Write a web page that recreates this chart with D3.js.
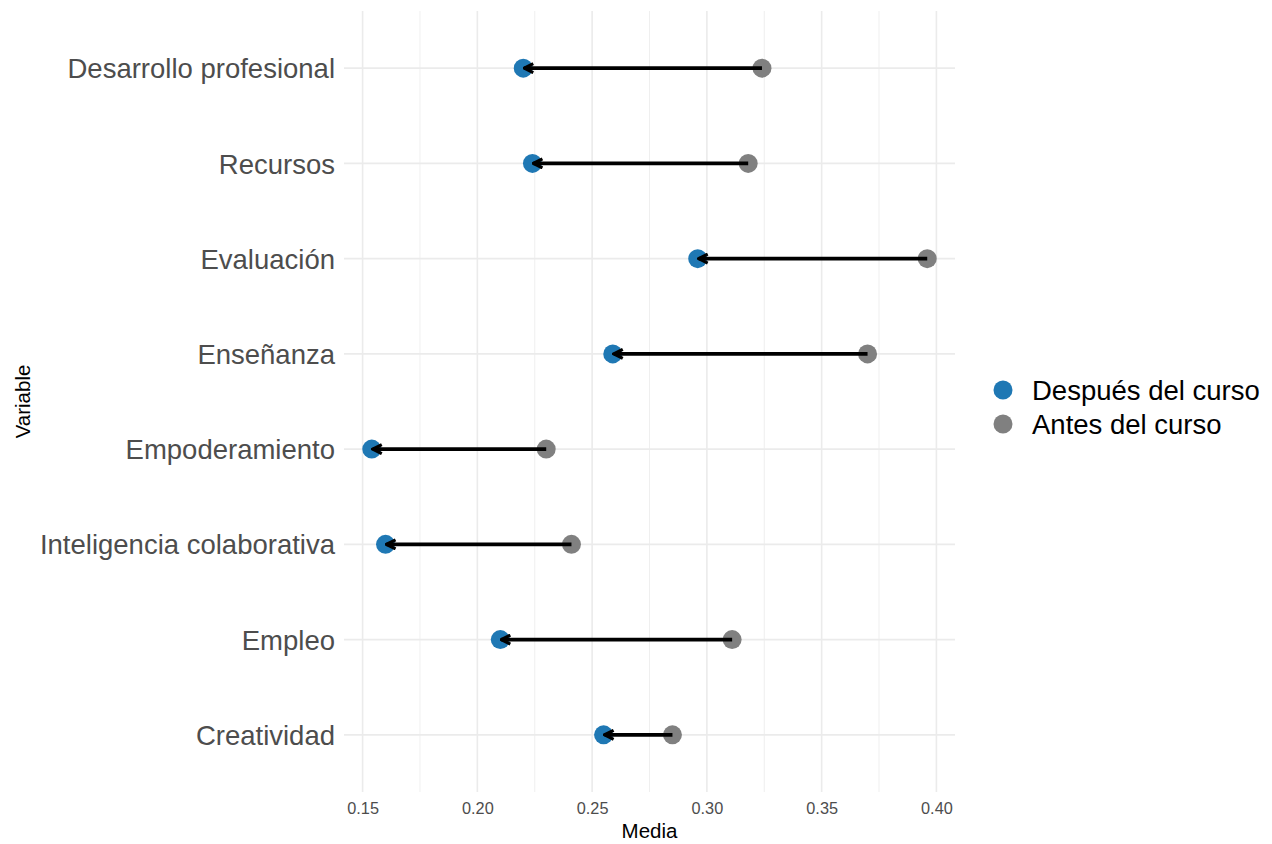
<!DOCTYPE html>
<html><head><meta charset="utf-8">
<script src="https://cdn.jsdelivr.net/npm/d3@7"></script>
<style>body{margin:0;background:#fff;} text{font-family:"Liberation Sans",Arial,sans-serif;}</style>
</head><body>
<svg id="c" width="1272" height="844"></svg>
<script>
const categories = ["Creatividad","Empleo","Inteligencia colaborativa","Empoderamiento","Enseñanza","Evaluación","Recursos","Desarrollo profesional"];
const antes   = [0.285, 0.311, 0.241, 0.230, 0.370, 0.396, 0.318, 0.324];
const despues = [0.255, 0.210, 0.160, 0.154, 0.259, 0.296, 0.224, 0.220];
const xTicks = [0.15, 0.20, 0.25, 0.30, 0.35, 0.40];
const xMinor = [0.175, 0.225, 0.275, 0.325, 0.375];
const legendLabels = ["Después del curso", "Antes del curso"];
const colors = ["#1f78b4", "#808080"];

const svg = d3.select("#c");
const L = 344, R = 955, T = 11, B = 792;
const all = antes.concat(despues);
const mn = d3.min(all), mx = d3.max(all), pad = (mx - mn) * 0.05;
const x = d3.scaleLinear().domain([mn - pad, mx + pad]).range([L, R]);
const n = categories.length;
const step = (B - T) / (n - 1 + 1.2);
const y = d3.scalePoint().domain(categories.slice().reverse()).range([T + 0.6*step, B - 0.6*step]);

// grid
svg.append("g").selectAll("line.mi").data(xMinor).join("line")
  .attr("x1", d => x(d)).attr("x2", d => x(d)).attr("y1", T).attr("y2", B)
  .attr("stroke", "#ebebeb").attr("stroke-width", 0.8);
svg.append("g").selectAll("line.ma").data(xTicks).join("line")
  .attr("x1", d => x(d)).attr("x2", d => x(d)).attr("y1", T).attr("y2", B)
  .attr("stroke", "#ebebeb").attr("stroke-width", 1.6);
svg.append("g").selectAll("line.hy").data(categories).join("line")
  .attr("x1", L).attr("x2", R).attr("y1", d => y(d)).attr("y2", d => y(d))
  .attr("stroke", "#ebebeb").attr("stroke-width", 1.6);

// axes
const xa = svg.append("g").attr("transform", `translate(0,${B})`)
  .call(d3.axisBottom(x).tickValues(xTicks).tickFormat(d3.format(".2f")).tickSize(0).tickPadding(10));
xa.select(".domain").remove();
xa.attr("font-size", null).attr("font-family", null);
xa.selectAll("text").style("font-size", "16.3px").attr("fill", "#4d4d4d");

const ya = svg.append("g").attr("transform", `translate(${L},0)`)
  .call(d3.axisLeft(y).tickSize(0).tickPadding(9));
ya.select(".domain").remove();
ya.attr("font-size", null).attr("font-family", null);
ya.selectAll("text").style("font-size", "27.5px").attr("fill", "#4d4d4d").attr("dy", "0.35em");

svg.append("text").attr("x", (L + R) / 2).attr("y", 838).attr("text-anchor", "middle")
  .style("font-size", "20.5px").attr("fill", "#000").text("Media");
svg.append("text").attr("transform", `translate(30,${(T + B) / 2}) rotate(-90)`).attr("text-anchor", "middle")
  .style("font-size", "20.5px").attr("fill", "#000").text("Variable");

// points
const data = categories.map((c, i) => ({c, a: antes[i], d: despues[i]}));
svg.append("g").selectAll("circle.a").data(data).join("circle")
  .attr("cx", d => x(d.a)).attr("cy", d => y(d.c)).attr("r", 9.5).attr("fill", colors[1]);
svg.append("g").selectAll("circle.d").data(data).join("circle")
  .attr("cx", d => x(d.d)).attr("cy", d => y(d.c)).attr("r", 9.5).attr("fill", colors[0]);

// arrows
svg.append("defs").append("marker").attr("id", "ah")
  .attr("viewBox", "0 0 12 12").attr("refX", 10.5).attr("refY", 6)
  .attr("markerWidth", 12).attr("markerHeight", 12).attr("markerUnits", "userSpaceOnUse")
  .attr("orient", "auto")
  .append("path").attr("d", "M1.5,1.5 L10.5,6 L1.5,10.5").attr("fill", "none").attr("stroke", "#000")
  .attr("stroke-width", 3.2).attr("stroke-linejoin", "miter");
svg.append("g").selectAll("line.arr").data(data).join("line")
  .attr("x1", d => x(d.a)).attr("x2", d => x(d.d) + 1).attr("y1", d => y(d.c)).attr("y2", d => y(d.c))
  .attr("stroke", "#000").attr("stroke-width", 3.6).attr("marker-end", "url(#ah)");

// legend
const lg = svg.append("g");
legendLabels.forEach((lab, i) => {
  lg.append("circle").attr("cx", 1003).attr("cy", 390 + i * 34).attr("r", 9.5).attr("fill", colors[i]);
  lg.append("text").attr("x", 1032).attr("y", 390 + i * 34).attr("dy", "0.35em")
    .style("font-size", "27.5px").attr("fill", "#000").text(lab);
});
</script>
</body></html>
